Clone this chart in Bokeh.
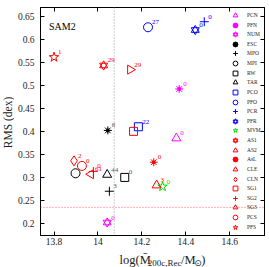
import numpy as np
from bokeh.plotting import figure
from bokeh.layouts import row, column
from bokeh.models import (Span, Label, Legend, LegendItem, FixedTicker,
                          LinearAxis, Range1d, ColumnDataSource)
from bokeh.core.properties import value
from bokeh.embed import file_html
from bokeh.resources import INLINE

# ---------------- data ----------------
methods = ["PCN", "PFN", "NUM", "ESC", "MPO", "MPI", "RW", "TAR", "PCO", "PFO",
           "PCR", "PFR", "MVM", "AS1", "AS2", "AsL", "CLE", "CLN", "SG1", "SG2",
           "SG3", "PCS", "PFS"]
log_mass = [14.357, 14.370, 14.042, 14.045, 14.052, 13.898, 14.122, 14.042, 14.184, 14.228,
            14.484, 14.443, 14.294, 14.026, 14.147, 14.254, 13.968, 13.891, 14.162, 13.979,
            14.267, 13.927, 13.800]
rms = [0.385, 0.492, 0.202, 0.402, 0.270, 0.309, 0.300, 0.306, 0.410, 0.626,
       0.638, 0.620, 0.280, 0.543, 0.534, 0.333, 0.307, 0.336, 0.400, 0.313,
       0.283, 0.325, 0.561]
n_labels = ["0", "0", "0", "8", "3", "", "0", "44", "22", "27",
            "0", "0", "0", "29", "29", "0", "61", "2", "", "0",
            "3", "0", "1"]

x_ticks = [13.8, 14.0, 14.2, 14.4, 14.6]
x_tick_labels = ["13.8", "14", "14.2", "14.4", "14.6"]
y_ticks = [0.2, 0.25, 0.3, 0.35, 0.4, 0.45, 0.5, 0.55, 0.6, 0.65]
y_tick_labels = ["0.2", "0.25", "0.3", "0.35", "0.4", "0.45", "0.5", "0.55", "0.6", "0.65"]
mass_cut = 14.074
rms_ref = 0.235
panel_name = "SAM2"
y_title = "RMS (dex)"

# ---------------- styles ----------------
M, K, B, G, R = "#ff00ff", "#000000", "#0000ff", "#00dd00", "#ff0000"
styles = {
    "PCN": ("triangle", M), "PFN": ("asterisk", M), "NUM": ("hexagram", M),
    "ESC": ("asterisk", K), "MPO": ("cross", K), "MPI": ("circle", K),
    "RW": ("square", K), "TAR": ("triangle", K), "PCO": ("square", B),
    "PFO": ("circle", B), "PCR": ("cross", B), "PFR": ("hexagram", B),
    "MVM": ("star", G), "AS1": ("hexagram", R), "AS2": ("tri_right", R),
    "AsL": ("asterisk", R), "CLE": ("tri_left", R), "CLN": ("diamond", R),
    "SG1": ("square", R), "SG2": ("cross", R), "SG3": ("triangle", R),
    "PCS": ("circle", R), "PFS": ("star", R),
}
sizes = {"triangle": 9, "asterisk": 8, "hexagram": 8, "cross": 9, "circle": 9,
         "square": 8, "star": 10, "diamond": 10, "tri_right": 9, "tri_left": 9}

FONT = "Liberation Serif"
TXT = "#222222"
# page layout (window pixels)
TOTAL_W, TOTAL_H = 269, 267
YL_W = 14            # left strip for y title
XL_H = 19            # bottom strip for x title
MAIN_W, MAIN_H = TOTAL_W - YL_W, TOTAL_H - XL_H
FRAME_LEFT, FRAME_RIGHT, FRAME_TOP, FRAME_BOTTOM = 37, 264, 7, 235

p = figure(width=MAIN_W, height=MAIN_H, output_backend="svg", toolbar_location=None,
           x_range=Range1d(13.7385, 14.7582), y_range=Range1d(0.1739, 0.6689),
           min_border_left=FRAME_LEFT - YL_W, min_border_right=TOTAL_W - FRAME_RIGHT,
           min_border_top=FRAME_TOP, min_border_bottom=MAIN_H - FRAME_BOTTOM)
p.xgrid.visible = False
p.ygrid.visible = False
p.outline_line_color = "black"
p.background_fill_color = "white"
p.border_fill_color = "white"

def style_axis(ax, ticks, labels, show_labels, standoff):
    ax.ticker = FixedTicker(ticks=ticks)
    ax.major_label_overrides = dict(zip(ticks, labels))
    ax.major_tick_in = 4
    ax.major_tick_out = 0
    ax.minor_tick_in = 0
    ax.minor_tick_out = 0
    ax.axis_line_color = "black"
    ax.major_tick_line_color = "black"
    ax.major_label_text_font = FONT
    if show_labels:
        ax.major_label_text_font_size = "9.5px"
        ax.major_label_text_color = TXT
        ax.major_label_standoff = standoff
    else:
        ax.major_label_text_font_size = "1px"
        ax.major_label_text_color = None
        ax.major_label_standoff = 0

style_axis(p.xaxis[0], x_ticks, x_tick_labels, True, 2)
style_axis(p.yaxis[0], y_ticks, y_tick_labels, True, 6)
top_ax = LinearAxis()
style_axis(top_ax, x_ticks, x_tick_labels, False, 0)
p.add_layout(top_ax, "above")
right_ax = LinearAxis()
style_axis(right_ax, y_ticks, y_tick_labels, False, 0)
p.add_layout(right_ax, "right")

p.add_layout(Span(location=mass_cut, dimension="height", line_color="#9a9a9a",
                  line_dash="1 2", line_width=1))
p.add_layout(Span(location=rms_ref, dimension="width", line_color="#ff6060",
                  line_dash="1 2", line_width=1))

# ---------------- markers ----------------
legend_renderers = []
for i, m in enumerate(methods):
    kind, color = styles[m]
    src = ColumnDataSource(dict(x=[log_mass[i]], y=[rms[i]]))
    sz = sizes[kind]
    kw = dict(source=src, size=sz, line_color=color, line_width=1)
    if kind == "hexagram":
        rs = [p.scatter("x", "y", marker="triangle", fill_color=None, **kw),
              p.scatter("x", "y", marker="inverted_triangle", fill_color=None, **kw)]
    elif kind == "tri_right":
        rs = [p.scatter("x", "y", marker="triangle", angle=-np.pi / 2, fill_color=None, **kw)]
    elif kind == "tri_left":
        rs = [p.scatter("x", "y", marker="triangle", angle=np.pi / 2, fill_color=None, **kw)]
    elif kind == "asterisk":
        rs = [p.scatter("x", "y", marker="asterisk", **kw),
              p.scatter("x", "y", marker="circle", size=3, fill_color=color,
                        line_color=color, source=src)]
    else:
        rs = [p.scatter("x", "y", marker=kind, fill_color=None, **kw)]
    legend_renderers.append(rs)

# number labels next to the markers
lab_idx = [i for i, t in enumerate(n_labels) if t]
lab_src = ColumnDataSource(dict(
    x=[log_mass[i] for i in lab_idx],
    y=[rms[i] for i in lab_idx],
    t=[n_labels[i] for i in lab_idx],
    c=[styles[methods[i]][1] if styles[methods[i]][1] != K else "#555555" for i in lab_idx],
))
p.text("x", "y", text="t", source=lab_src, text_color="c", text_font=value(FONT),
       text_font_size="7px", x_offset=4, y_offset=-3, text_align="left",
       text_baseline="bottom")

p.add_layout(Label(x=13.777, y=0.628, text=panel_name, text_font=FONT,
                   text_font_size="10px", text_color="black", text_baseline="alphabetic"))

# ---------------- legend (one row each, spread evenly) ----------------
row0, row_step, gh = 15.0, 9.62, 12
for i, m in enumerate(methods):
    yc = row0 + i * row_step
    leg = Legend(items=[LegendItem(label=m, renderers=legend_renderers[i])],
                 location=(226 - FRAME_LEFT, FRAME_BOTTOM - (yc + gh / 2)),
                 glyph_width=gh, glyph_height=gh, label_height=gh, label_width=10,
                 padding=0, margin=0, spacing=0, label_standoff=6,
                 border_line_alpha=0, background_fill_alpha=0,
                 label_text_font=FONT, label_text_font_size="5.5px",
                 label_text_color=TXT, label_text_baseline="middle")
    p.add_layout(leg, "center")

# ---------------- title strips ----------------
def strip(w, h):
    f = figure(width=w, height=h, output_backend="svg", toolbar_location=None,
               title=None, x_range=Range1d(0, w), y_range=Range1d(0, h),
               x_axis_type=None, y_axis_type=None, min_border=0)
    f.xgrid.visible = False
    f.ygrid.visible = False
    f.outline_line_color = None
    f.background_fill_color = "white"
    f.border_fill_color = "white"
    return f

p_yl = strip(YL_W, TOTAL_H)
p_yl.add_layout(Label(x=7.5, y=TOTAL_H - 122, text=y_title, angle=np.pi / 2,
                      text_align="center", text_baseline="middle", text_font=FONT,
                      text_font_size="11.5px", text_color=TXT))

p_xl = strip(MAIN_W, XL_H)
base_main = TOTAL_H - 259   # baseline of the main text (strip coords, y up)
base_sub = TOTAL_H - 262    # baseline of subscripts
x0 = 104 - YL_W
pieces = [("log(M\u0304", 0.0, base_main, "12.5px", FONT),
          ("200c,Rec", 32.0, base_sub, "9px", FONT),
          ("/M", 70.0, base_main, "12.5px", FONT),
          ("\u2299", 85.0, base_sub, "9px", "DejaVu Sans"),
          (")", 93.0, base_main, "12.5px", FONT)]
for txt, dx, yy, fs, fnt in pieces:
    p_xl.add_layout(Label(x=x0 + dx, y=yy, text=txt, text_align="left",
                          text_baseline="alphabetic", text_font=fnt,
                          text_font_size=fs, text_color=TXT))

layout = row(p_yl, column(p, p_xl, spacing=0), spacing=0)
open("out.html", "w").write(file_html(layout, INLINE))
